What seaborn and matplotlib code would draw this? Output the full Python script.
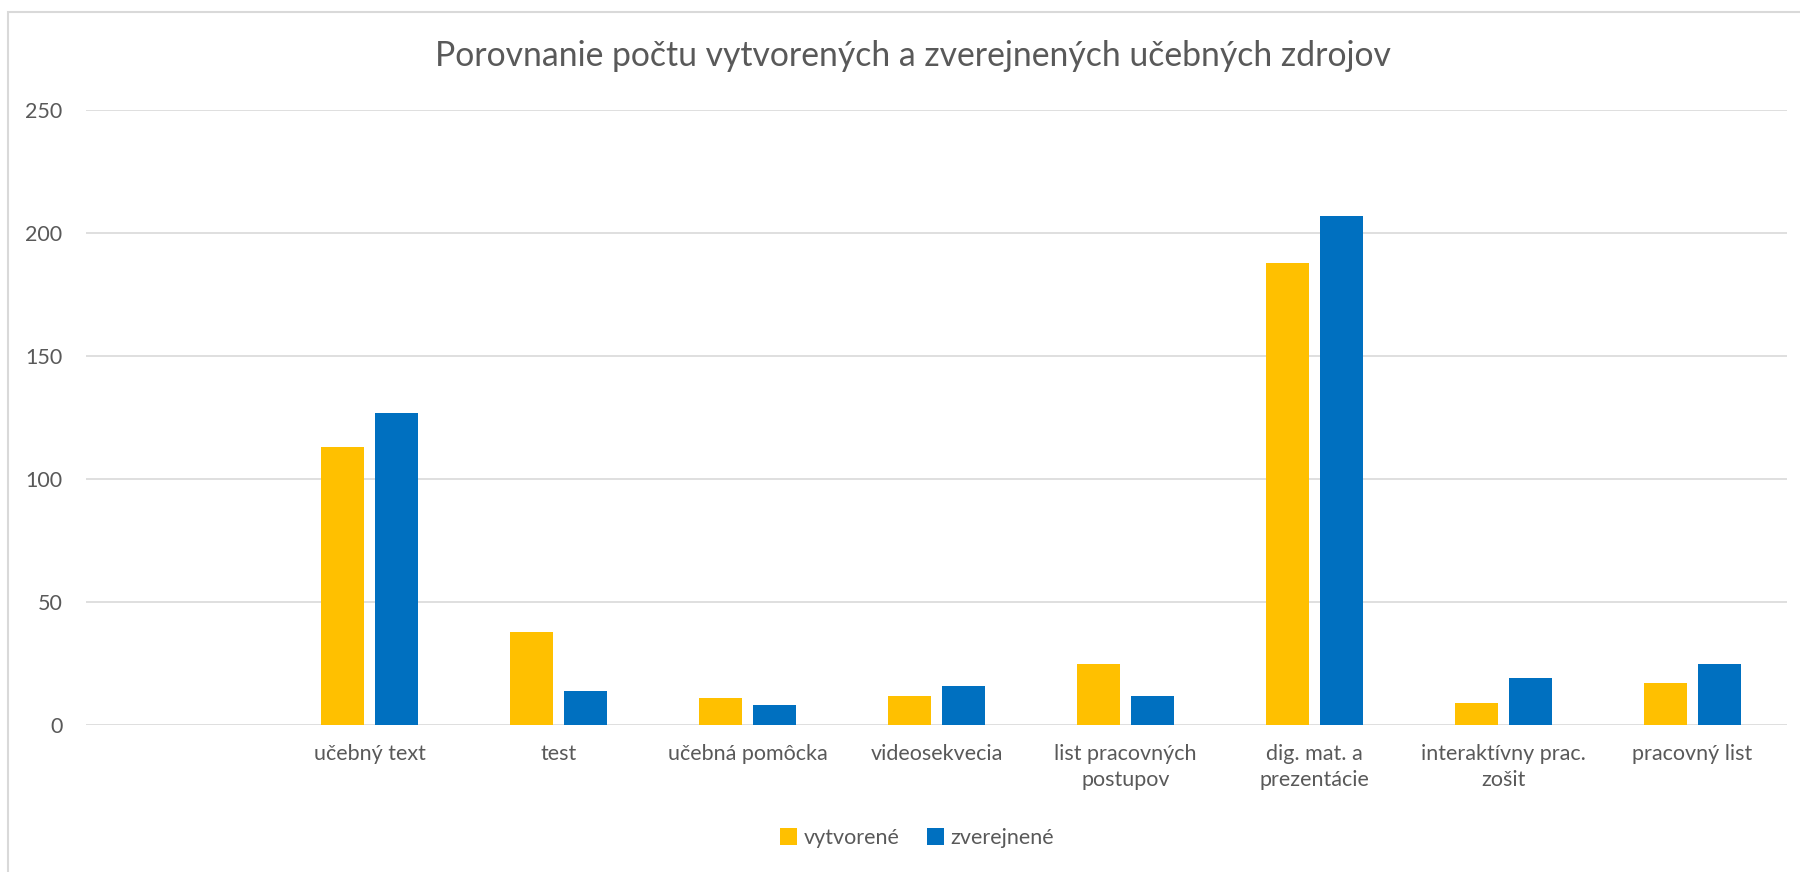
import seaborn as sns
import matplotlib.pyplot as plt
import matplotlib.patches as mpatches
import pandas as pd

# data
categories = ["učebný text", "test", "učebná pomôcka", "videosekvecia",
              "list pracovných\npostupov", "dig. mat. a\nprezentácie",
              "interaktívny prac.\nzošit", "pracovný list"]
vytvorene = [113, 38, 11, 12, 25, 188, 9, 17]
zverejnene = [127, 14, 8, 16, 12, 207, 19, 25]
series = ["vytvorené", "zverejnené"]
colors = ["#FFC000", "#0070C0"]
yticks = [0, 50, 100, 150, 200, 250]

df = pd.DataFrame({
    "Kategória": categories * 2,
    "Počet": vytvorene + zverejnene,
    "Séria": [series[0]] * len(categories) + [series[1]] * len(categories),
})
order = [""] + categories  # the source chart has an empty first slot

sns.set_style("white")
plt.rcParams["font.family"] = ["Lato", "DejaVu Sans"]
grey = "#595959"

fig = plt.figure(figsize=(18, 8.72), dpi=100)
ax = fig.add_axes([86 / 1800, 1 - 725 / 872, (1787 - 86) / 1800, (725 - 110.5) / 872])

sns.barplot(data=df, x="Kategória", y="Počet", hue="Séria", order=order,
            hue_order=series, palette=colors, width=0.575, gap=0.21,
            linewidth=0, saturation=1, ax=ax)

ax.set_ylim(0, 250)
ax.set_xlim(-0.5, len(order) - 0.5)
ax.set_yticks(yticks)
ax.yaxis.grid(True, color="#D9D9D9", linewidth=1.2)
ax.set_axisbelow(True)
sns.despine(ax=ax, left=True, bottom=True)
ax.tick_params(axis="both", length=0, labelsize=15.5, labelcolor=grey)
ax.tick_params(axis="y", pad=17)
ax.tick_params(axis="x", pad=14)
ax.set_xlabel("")
ax.set_ylabel("")
for lbl in ax.get_xticklabels():
    lbl.set_linespacing(1.35)

fig.text(0.507, 1 - 66 / 872, "Porovnanie počtu vytvorených a zverejnených učebných zdrojov",
         ha="center", va="baseline", fontsize=24.3, color=grey)

sns.move_legend(ax, "center", bbox_to_anchor=(917 / 1800, 1 - 838 / 872),
                bbox_transform=fig.transFigure, ncol=2, frameon=False, title=None,
                fontsize=15.5, handlelength=0.8, handleheight=0.8, handletextpad=0.3,
                columnspacing=1.3)
for t in ax.get_legend().get_texts():
    t.set_color(grey)

# chart area border (left/top visible in the reference)
fig.patches.append(mpatches.Rectangle((8 / 1800, -0.1), 1.2, 1 - 12 / 872 + 0.1,
                                      transform=fig.transFigure, fill=False,
                                      edgecolor="#D9D9D9", linewidth=1.5))

plt.savefig("out.png", dpi=100)
plt.close()
